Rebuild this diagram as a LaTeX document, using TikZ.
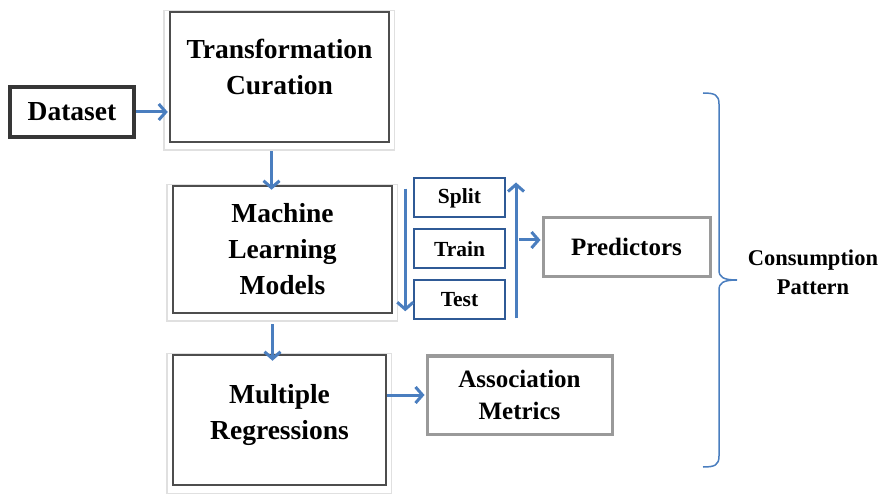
\documentclass[tikz,border=0pt]{standalone}
\usepackage{fontspec}
\setmainfont{Liberation Serif}
\usetikzlibrary{arrows.meta,shapes,positioning,backgrounds}
\definecolor{arrblue}{HTML}{4A7EBF}
\definecolor{boxblue}{HTML}{2F5A96}
\definecolor{darkframe}{HTML}{4D4D4D}
\definecolor{lightframe}{HTML}{9A9A9A}

\begin{document}
\begin{tikzpicture}[->,>={Straight Barb[length=7pt,width=16pt,line width=3pt]},
                    x=1pt,y=-1pt,node distance=10pt,line width=3pt]
\tikzstyle{stage}=[rectangle,draw=darkframe,line width=2.5pt,align=center,
                   font=\bfseries\fontsize{27.5}{36}\selectfont]
\tikzstyle{phase}=[rectangle,draw=boxblue,line width=2pt,minimum width=91,
                   minimum height=39,font=\bfseries\fontsize{21.5}{26}\selectfont]
\tikzstyle{result}=[rectangle,draw=lightframe,line width=3pt,align=center,
                    font=\bfseries\fontsize{25}{32}\selectfont]
\tikzstyle{flow}=[draw=arrblue,line width=3pt,shorten >=1pt]
\tikzstyle{ghost}=[-,draw=black!12,line width=1.5pt]
\useasboundingbox (0,0) rectangle (881,494);

\node[stage,line width=4pt,draw=darkframe!70!black,minimum width=124,
      minimum height=50] (dataset) at (72,112) {Dataset};
\node[stage,minimum width=219,minimum height=130] (trans) at (279.5,77)
     {Transformation\\Curation\\[-16pt]\mbox{}};
\node[stage,minimum width=219,minimum height=127] (ml) at (282.5,249.5)
     {Machine\\Learning\\Models};
\node[stage,minimum width=213,minimum height=130] (mr) at (279.5,420)
     {Multiple\\Regressions\\[-20pt]\mbox{}};

\node[phase] (split) at (459.5,198) {Split};
\node[phase,below=of split] (train) {Train};
\node[phase,below=of train] (test) {Test};

\node[result,minimum width=167,minimum height=59] (pred) at (626.5,247) {Predictors};
\node[result,minimum width=185,minimum height=78] (assoc) at (519.5,395)
     {Association\\Metrics};
\node[align=center,font=\bfseries\fontsize{22.5}{29}\selectfont] (cons) at (813,272)
     {Consumption\\Pattern};

\begin{scope}[on background layer]
\foreach \n in {trans,ml,mr}
  \draw[ghost] ([shift={(-5,0)}]\n.north west) rectangle ([shift={(4,7)}]\n.south east);
\end{scope}

\draw[flow] (dataset) -- (dataset -| trans.west);
\draw[flow] ([shift={(-8,8)}]trans.south) -- ([shift={(-8,6)}]trans.south |- ml.north);
\draw[flow] ([shift={(-10,10)}]ml.south) -- ([shift={(-10,8)}]ml.south |- mr.north);
\draw[flow] (assoc.west -| mr.east) -- (assoc.west);
\draw[flow] ([shift={(12,4)}]ml.north east) -- ([shift={(12,-2)}]ml.south east);
\draw[flow] ([shift={(10,-2)}]test.south east) -- ([shift={(10,4)}]split.north east);
\draw[flow] ([shift={(-23,-7)}]pred.west) -- ([shift={(0,-7)}]pred.west);

% brace round the outputs
\coordinate (btop) at (703,93);
\coordinate (bbot) at (703,467);
\draw[-,arrblue,line width=1.5pt]
     (btop) .. controls (715,93) and (719,95) .. (719,104) -- (719,270)
     .. controls (719,277) and (723,280) .. (737,280)
     .. controls (723,280) and (719,283) .. (719,290) -- (719,456)
     .. controls (719,465) and (715,467) .. (bbot);
\end{tikzpicture}
\end{document}
